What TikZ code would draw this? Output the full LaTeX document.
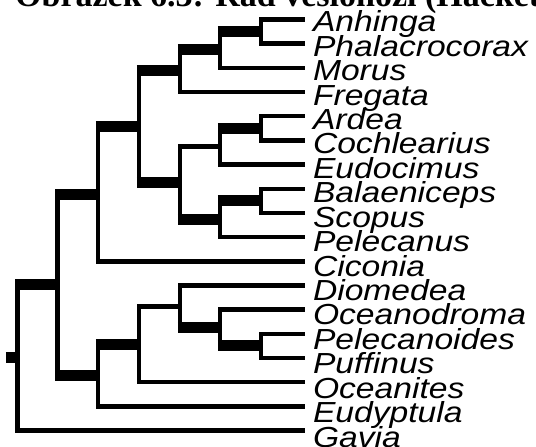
\documentclass[tikz,border=0pt]{standalone}
\usepackage{fontspec}
\usepackage{graphicx}
\setmainfont{Liberation Sans}
\newfontfamily\capfont{Liberation Serif}
\newcommand{\taxon}[1]{\scalebox{1.16}[1]{#1}}
\begin{document}
\begin{tikzpicture}[x=1pt,y=-1pt,
  brthin/.style={line width=4.5pt, line cap=rect},
  brthick/.style={line width=11pt, line cap=butt, shorten <=-2.25pt, shorten >=-2.25pt},
  lab/.style={anchor=base west, inner sep=0pt, outer sep=0pt, font=\fontsize{29}{29}\selectfont\itshape},
  capstyle/.style={anchor=base west, inner sep=0pt, font=\capfont\bfseries\fontsize{34}{34}\selectfont}]
\useasboundingbox (0,0) rectangle (536,447);
\fill[white] (0,0) rectangle (536,447);
% caption cut at the top edge
\begin{scope}
\clip (0,0) rectangle (536,447);
\node[capstyle] (cap) at (15,6) {Obrázek 6.3: Řád veslonozí (Hackett et al. 2008)};
\end{scope}
% leaf tips
\coordinate (Anh) at (303,19.5);
\coordinate (Pha) at (303,43.7);
\coordinate (Mor) at (303,67.9);
\coordinate (Fre) at (303,92.0);
\coordinate (Ard) at (303,116.2);
\coordinate (Coc) at (303,140.4);
\coordinate (Eud) at (303,164.6);
\coordinate (Bal) at (303,188.8);
\coordinate (Sco) at (303,212.9);
\coordinate (Pel) at (303,237.1);
\coordinate (Cic) at (303,261.3);
\coordinate (Dio) at (303,285.5);
\coordinate (Oce) at (303,309.7);
\coordinate (Pec) at (303,333.8);
\coordinate (Puf) at (303,358.0);
\coordinate (Ocn) at (303,382.2);
\coordinate (Eup) at (303,406.4);
\coordinate (Gav) at (303,430.6);
% internal nodes
\coordinate (A) at (261,31.6);
\coordinate (B) at (220,49.7);
\coordinate (C) at (180,70.9);
\coordinate (F1) at (261,128.3);
\coordinate (F) at (220,146.5);
\coordinate (G1) at (261,200.9);
\coordinate (G) at (220,219.0);
\coordinate (E) at (180,182.7);
\coordinate (D) at (139,126.8);
\coordinate (H) at (98,194.0);
\coordinate (N) at (261,345.9);
\coordinate (M) at (220,327.8);
\coordinate (L) at (180,306.7);
\coordinate (K) at (139,344.4);
\coordinate (J) at (98,375.4);
\coordinate (I) at (57.5,284.7);
\coordinate (R) at (17.5,357.7);
\coordinate (S) at (8,357.7);
% verticals
\foreach \p/\a/\b in {A/Anh/Pha, B/A/Mor, C/B/Fre, F1/Ard/Coc, F/F1/Eud, G1/Bal/Sco, G/G1/Pel,
  E/F/G, D/C/E, H/D/Cic, N/Pec/Puf, M/Oce/N, L/Dio/M, K/L/Ocn, J/K/Eup, I/H/J, R/I/Gav}
  \draw[brthin] (\p |- \a) -- (\p |- \b);
% thin horizontal branches
\foreach \p/\c in {A/Anh, A/Pha, B/Mor, C/Fre, F1/Ard, F1/Coc, F/Eud, G1/Bal, G1/Sco, G/Pel,
  E/F, H/Cic, N/Pec, N/Puf, M/Oce, L/Dio, K/L, K/Ocn, J/Eup, R/Gav}
  \draw[brthin] (\p |- \c) -- (\c);
% thick horizontal branches
\foreach \p/\c in {B/A, C/B, F/F1, G/G1, E/G, D/C, D/E, H/D, M/N, L/M, J/K, I/H, I/J, R/I}
  \draw[brthick] (\p |- \c) -- (\c);
\draw[brthick] (S) -- (R);
% labels
\node[lab] (lAnh) at (313,31.7) {\taxon{Anhinga}};
\node[lab] (lPha) at (313,56.1) {\taxon{Phalacrocorax}};
\node[lab] (lMor) at (313,80.6) {\taxon{Morus}};
\node[lab] (lFre) at (313,105.0) {\taxon{Fregata}};
\node[lab] (lArd) at (313,129.4) {\taxon{Ardea}};
\node[lab] (lCoc) at (313,153.9) {\taxon{Cochlearius}};
\node[lab] (lEud) at (313,178.3) {\taxon{Eudocimus}};
\node[lab] (lBal) at (313,202.7) {\taxon{Balaeniceps}};
\node[lab] (lSco) at (313,227.1) {\taxon{Scopus}};
\node[lab] (lPel) at (313,251.6) {\taxon{Pelecanus}};
\node[lab] (lCic) at (313,276.0) {\taxon{Ciconia}};
\node[lab] (lDio) at (313,300.4) {\taxon{Diomedea}};
\node[lab] (lOce) at (313,324.9) {\taxon{Oceanodroma}};
\node[lab] (lPec) at (313,349.3) {\taxon{Pelecanoides}};
\node[lab] (lPuf) at (313,373.7) {\taxon{Puffinus}};
\node[lab] (lOcn) at (313,398.2) {\taxon{Oceanites}};
\node[lab] (lEup) at (313,422.6) {\taxon{Eudyptula}};
\node[lab] (lGav) at (313,447.0) {\taxon{Gavia}};
\end{tikzpicture}
\end{document}
